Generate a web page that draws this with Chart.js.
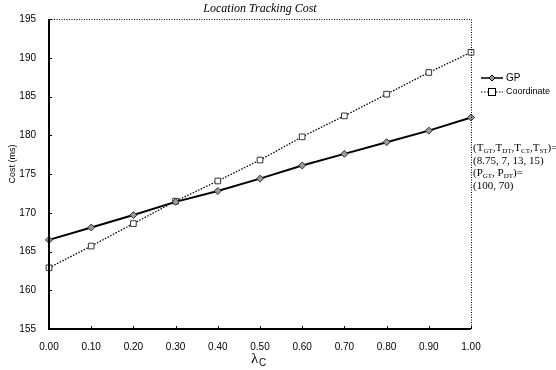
<!DOCTYPE html>
<html>
<head>
<meta charset="utf-8">
<script src="https://cdn.jsdelivr.net/npm/chart.js@4/dist/chart.umd.min.js"></script>
<style>
    html, body { margin: 0; padding: 0; background: #fff; }
    #wrap { width: 556px; height: 370px; }
</style>
</head>
<body>
<div id="wrap"><canvas id="grafico" width="556" height="370"></canvas></div>
<script>

// lambda_C values along the x axis
const lambdas = ['0.00', '0.10', '0.20', '0.30', '0.40', '0.50', '0.60', '0.70', '0.80', '0.90', '1.00'];

// location tracking cost (ms)
const custoGP = [166.5, 168.1, 169.7, 171.4, 172.8, 174.4, 176.1, 177.6, 179.1, 180.6, 182.3];
const custoCoord = [162.9, 165.7, 168.6, 171.5, 174.1, 176.8, 179.8, 182.5, 185.3, 188.1, 190.7];

const yTicks = [155, 160, 165, 170, 175, 180, 185, 190, 195];

const nomesSeries = ['GP', 'Coordinate'];

// texto do quadro de parametros: [texto, subscrito] em pedacos
const notas = [
    [['(T', ''], ['GT', 's'], [',T', ''], ['DT', 's'], [',T', ''], ['CT', 's'], [',T', ''], ['ST', 's'], [')=', '']],
    [['(8.75, 7, 13, 15)', '']],
    [['(P', ''], ['GT', 's'], [', P', ''], ['DT', 's'], [')=', '']],
    [['(100, 70)', '']]
];

const extras = {
    id: 'extras',
    afterDraw(chart) {
        const ctx = chart.ctx;
        const a = chart.chartArea;
        ctx.save();

        // moldura: esquerda e baixo solidas, topo e direita pontilhadas
        ctx.strokeStyle = '#000';
        ctx.lineWidth = 2;
        ctx.beginPath();
        ctx.moveTo(a.left, a.top);
        ctx.lineTo(a.left, a.bottom);
        ctx.lineTo(a.right, a.bottom);
        ctx.stroke();
        ctx.lineWidth = 1;
        ctx.setLineDash([1, 1.5]);
        ctx.beginPath();
        ctx.moveTo(a.left, a.top + 0.5);
        ctx.lineTo(a.right + 0.5, a.top + 0.5);
        ctx.lineTo(a.right + 0.5, a.bottom);
        ctx.stroke();
        ctx.setLineDash([]);

        // marcas dos ticks para dentro
        const sx = chart.scales.x;
        const sy = chart.scales.y;
        ctx.lineWidth = 1;
        ctx.beginPath();
        lambdas.forEach((l, i) => {
            const px = Math.round(sx.getPixelForValue(i)) + 0.5;
            ctx.moveTo(px, a.bottom);
            ctx.lineTo(px, a.bottom - 3);
        });
        yTicks.forEach(v => {
            const py = Math.round(sy.getPixelForValue(v)) + 0.5;
            ctx.moveTo(a.left, py);
            ctx.lineTo(a.left + 3, py);
        });
        ctx.stroke();

        // titulo
        ctx.fillStyle = '#000';
        ctx.font = 'italic 12px "Liberation Serif"';
        ctx.textAlign = 'center';
        ctx.textBaseline = 'middle';
        ctx.fillText('Location Tracking Cost', (a.left + a.right) / 2, 9);

        // titulo eixo y
        ctx.save();
        ctx.translate(13, 164);
        ctx.rotate(-Math.PI / 2);
        ctx.font = '9px "Liberation Sans"';
        ctx.fillText('Cost (ms)', 0, 0);
        ctx.restore();

        // titulo eixo x: lambda_C
        ctx.font = '15px "Liberation Serif"';
        ctx.textAlign = 'left';
        ctx.fillText('\u03BB', 251, 359);
        ctx.font = '10px "Liberation Sans"';
        ctx.fillText('C', 259, 363);

        // legenda
        const lx = 481, lx2 = 503;
        ctx.font = '10px "Liberation Sans"';
        ctx.textBaseline = 'middle';
        // GP
        let ly = 78;
        ctx.lineWidth = 1.5;
        ctx.beginPath();
        ctx.moveTo(lx, ly);
        ctx.lineTo(lx2, ly);
        ctx.stroke();
        ctx.fillStyle = '#999';
        ctx.beginPath();
        ctx.moveTo(492, ly - 3);
        ctx.lineTo(495, ly);
        ctx.lineTo(492, ly + 3);
        ctx.lineTo(489, ly);
        ctx.closePath();
        ctx.fill();
        ctx.lineWidth = 1;
        ctx.stroke();
        ctx.fillStyle = '#000';
        ctx.fillText(nomesSeries[0], 506, ly);
        // Coordinate
        ly = 92;
        ctx.setLineDash([1.5, 1.5]);
        ctx.beginPath();
        ctx.moveTo(lx, ly);
        ctx.lineTo(lx2, ly);
        ctx.stroke();
        ctx.setLineDash([]);
        ctx.fillStyle = '#fff';
        ctx.fillRect(488, ly - 3.5, 7, 7);
        ctx.strokeRect(488.5, ly - 3.5, 7, 7);
        ctx.fillStyle = '#000';
        ctx.font = '9px "Liberation Sans"';
        ctx.fillText(nomesSeries[1], 506, ly);

        // quadro de parametros
        let ny = 148;
        notas.forEach(linha => {
            let nx = 473;
            linha.forEach(([t, tipo]) => {
                if (tipo === 's') {
                    ctx.font = '7px "Liberation Serif"';
                    ctx.fillText(t, nx, ny + 3);
                } else {
                    ctx.font = '11px "Liberation Serif"';
                    ctx.fillText(t, nx, ny);
                }
                nx += ctx.measureText(t).width;
            });
            ny += 12.7;
        });

        ctx.restore();
    }
};

new Chart(document.getElementById('grafico'), {
    type: 'line',
    data: {
        labels: lambdas,
        datasets: [
            {
                label: nomesSeries[0],
                data: custoGP,
                borderColor: '#000',
                borderWidth: 2,
                pointStyle: 'rectRot',
                pointRadius: 3.5,
                pointBackgroundColor: '#999',
                pointBorderColor: '#333',
                pointBorderWidth: 1,
                tension: 0
            },
            {
                label: nomesSeries[1],
                data: custoCoord,
                borderColor: '#000',
                borderWidth: 1.3,
                borderDash: [1.5, 1.5],
                pointStyle: 'rect',
                pointRadius: 4,
                pointBackgroundColor: '#fff',
                pointBorderColor: '#333',
                pointBorderWidth: 1,
                tension: 0
            }
        ]
    },
    options: {
        responsive: false,
        animation: false,
        devicePixelRatio: 1,
        layout: { padding: { top: 19, right: 85, left: 0, bottom: 0 } },
        plugins: {
            legend: { display: false },
            title: { display: false },
            tooltip: { enabled: false }
        },
        scales: {
            x: {
                type: 'category',
                offset: false,
                grid: { display: false },
                border: { display: false },
                ticks: {
                    color: '#000',
                    font: { family: 'Liberation Sans', size: 10 },
                    padding: 4,
                    maxRotation: 0,
                    autoSkip: false
                },
                afterFit(scale) { scale.height = 41; }
            },
            y: {
                min: 155,
                max: 195,
                grid: { display: false },
                border: { display: false },
                afterBuildTicks(scale) {
                    scale.ticks = yTicks.map(v => ({ value: v }));
                },
                ticks: {
                    color: '#000',
                    font: { family: 'Liberation Sans', size: 10 },
                    padding: 5
                },
                afterFit(scale) { scale.width = 49; }
            }
        }
    },
    plugins: [extras]
});
</script>
</body>
</html>
